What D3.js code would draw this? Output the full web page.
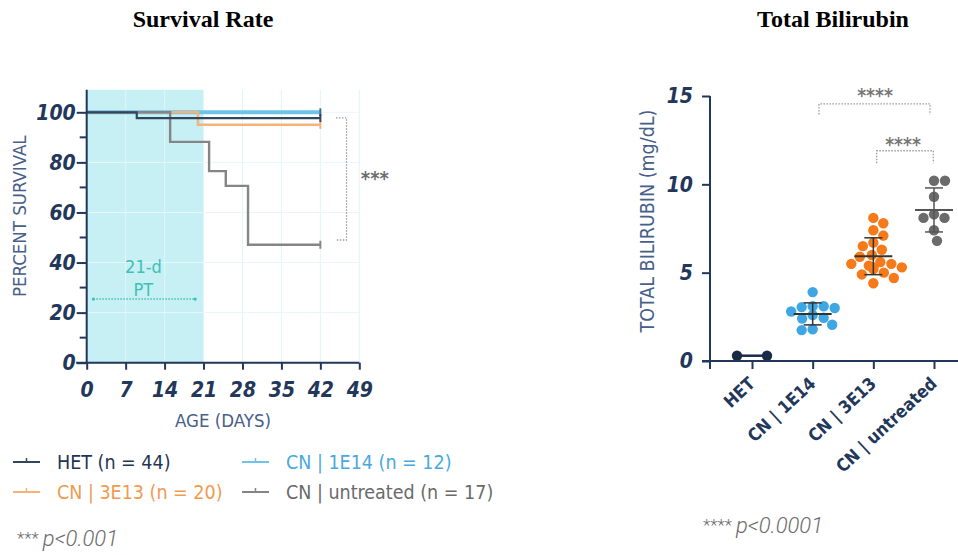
<!DOCTYPE html>
<html><head><meta charset="utf-8">
<script src="https://cdn.jsdelivr.net/npm/d3@7"></script>
<style>
body{margin:0;background:#fff;}
svg{display:block;}
.cond{font-family:"DejaVu Sans Condensed","DejaVu Sans",sans-serif;font-stretch:condensed;}
</style></head><body>
<svg id="c" width="958" height="555"></svg>
<script>
// ---------- DATA ----------
const survivalSeries = ["HET (n = 44)", "CN | 1E14 (n = 12)", "CN | 3E13 (n = 20)", "CN | untreated (n = 17)"];
const hetDays = [0, 9, 42],        hetPct = [100, 97.7, 97.7];
const e14Days = [0, 42],           e14Pct = [100, 100];
const e13Days = [0, 20, 42],       e13Pct = [100, 95, 95];
const untDays = [0, 15, 22, 25, 29, 42], untPct = [100, 88.2, 76.5, 70.6, 47.1, 47.1];
const dayTicks = [0, 7, 14, 21, 28, 35, 42, 49];
const pctTicks = [0, 20, 40, 60, 80, 100];

const biliCategories = ["HET", "CN | 1E14", "CN | 3E13", "CN | untreated"];
const biliHET = [0.3, 0.3];
const bili1E14 = [3.9, 3.1, 3.1, 3.05, 3.0, 2.8, 2.6, 2.45, 2.4, 2.05, 1.8, 1.75];
const bili3E13 = [8.1, 7.8, 7.4, 7.1, 6.7, 6.5, 6.3, 6.0, 5.9, 5.6, 5.5, 5.5, 5.4, 5.3, 5.3, 5.2, 5.0, 4.9, 4.7, 4.4];
const biliUntreated = [10.2, 10.2, 9.3, 8.3, 8.1, 8.1, 7.4, 6.8];
const biliTicks = [0, 5, 10, 15];

// ---------- STYLE ----------
const navy = "#22375a", labelCol = "#46608a";
const survColors = ["#33465f", "#6ec3ea", "#f5b27a", "#858585"];
const survWidths = [2.2, 4, 2.6, 2.4];
const biliColors = ["#1b2b47", "#3ea6e2", "#f77a1a", "#6b6b6b"];

const svg = d3.select("#c");
svg.append("text").attr("x", 203).attr("y", 27).attr("text-anchor", "middle")
  .style("font-family", "Liberation Serif, serif").style("font-weight", "bold").style("font-size", "24px").text("Survival Rate");
svg.append("text").attr("x", 833).attr("y", 27).attr("text-anchor", "middle")
  .style("font-family", "Liberation Serif, serif").style("font-weight", "bold").style("font-size", "24px").text("Total Bilirubin");

// ---------- SURVIVAL ----------
const x = d3.scaleLinear().domain([0, 49]).range([86.7, 359.3]);
const y = d3.scaleLinear().domain([0, 100]).range([362.7, 112.3]);
const g = svg.append("g");

g.append("rect").attr("x", x(0)).attr("width", x(21) - x(0)).attr("y", y(109)).attr("height", y(0) - y(109)).attr("fill", "#c6f0f4");
g.selectAll(".vg").data(dayTicks.slice(1)).join("line").attr("x1", d => x(d)).attr("x2", d => x(d))
  .attr("y1", y(109)).attr("y2", y(0)).attr("stroke", "#e2f5f7").attr("stroke-width", 1);
g.selectAll(".hg").data(pctTicks.slice(1)).join("line").attr("x1", x(0)).attr("x2", x(49))
  .attr("y1", d => y(d)).attr("y2", d => y(d)).attr("stroke", "#e8f7f8").attr("stroke-width", 1);

// PT annotation
g.append("line").attr("x1", x(1.2)).attr("x2", x(19.5)).attr("y1", y(25.4)).attr("y2", y(25.4))
  .attr("stroke", "#3fbfb8").attr("stroke-width", 1.5).attr("stroke-dasharray", "1.5,1.5");
[1.2, 19.5].forEach(d => g.append("circle").attr("cx", x(d)).attr("cy", y(25.4)).attr("r", 1.6).attr("fill", "#3fbfb8"));
g.append("text").attr("class", "cond").attr("x", x(10.2)).attr("y", y(38.4) + 6).attr("text-anchor", "middle")
  .attr("fill", "#3cc0b8").style("font-size", "18px").text("21-d");
g.append("text").attr("class", "cond").attr("x", x(10.2)).attr("y", y(29.2) + 6).attr("text-anchor", "middle")
  .attr("fill", "#3cc0b8").style("font-size", "18px").text("PT");

// lines
const stepLine = d3.line().curve(d3.curveStepAfter).x(d => x(d[0])).y(d => y(d[1]));
const survData = [
  d3.zip(hetDays, hetPct), d3.zip(e14Days, e14Pct), d3.zip(e13Days, e13Pct), d3.zip(untDays, untPct)];
[1, 2, 3, 0].forEach(i => {
  g.append("path").attr("d", stepLine(survData[i])).attr("fill", "none")
    .attr("stroke", survColors[i]).attr("stroke-width", survWidths[i]);
  const last = survData[i][survData[i].length - 1];
  g.append("line").attr("x1", x(last[0])).attr("x2", x(last[0])).attr("y1", y(last[1]) - 4).attr("y2", y(last[1]) + 4)
    .attr("stroke", i === 1 ? "#4a6a8a" : survColors[i]).attr("stroke-width", 2);
});

// axes
const yAxis = d3.axisLeft(y).tickValues(pctTicks).tickSize(10).tickPadding(1);
const ga = g.append("g").attr("transform", `translate(${x(0)},0)`).call(yAxis);
ga.select(".domain").remove();
ga.append("line").attr("x1", 0).attr("x2", 0).attr("y1", y(109)).attr("y2", y(0)).attr("stroke", navy).attr("stroke-width", 2);
ga.selectAll(".tick line").attr("stroke", navy).attr("stroke-width", 2);
ga.selectAll(".tick text").attr("class", "cond").attr("fill", navy)
  .style("font-size", "21px").style("font-weight", "bold").style("font-style", "italic");
ga.selectAll(".minor").data([10, 30, 50, 70, 90]).join("line").attr("x1", -7).attr("x2", 0)
  .attr("y1", d => y(d)).attr("y2", d => y(d)).attr("stroke", navy).attr("stroke-width", 2);

const xAxis = d3.axisBottom(x).tickValues(dayTicks).tickSize(7).tickPadding(12);
const gx = g.append("g").attr("transform", `translate(0,${y(0)})`).call(xAxis);
gx.select(".domain").remove();
gx.append("line").attr("x1", x(0) - 10.5).attr("x2", x(49)).attr("y1", 0).attr("y2", 0).attr("stroke", navy).attr("stroke-width", 2);
gx.selectAll(".tick line").attr("stroke", navy).attr("stroke-width", 2);
gx.selectAll(".tick text").attr("class", "cond").attr("fill", navy)
  .style("font-size", "21px").style("font-weight", "bold").style("font-style", "italic");

g.append("text").attr("class", "cond").attr("transform", `translate(26,${(y(0) + y(109)) / 2 - 10}) rotate(-90)`)
  .attr("text-anchor", "middle").attr("fill", labelCol).style("font-size", "18.5px").text("PERCENT SURVIVAL");
g.append("text").attr("class", "cond").attr("x", (x(0) + x(49)) / 2).attr("y", 427)
  .attr("text-anchor", "middle").attr("fill", labelCol).style("font-size", "18.5px").text("AGE (DAYS)");

// significance bracket
const br = g.append("g").attr("stroke", "#9a9a9a").attr("stroke-width", 1.3).attr("stroke-dasharray", "1.5,1.5").attr("fill", "none");
br.append("path").attr("d", `M${x(44.8)},${y(97.8)}H${x(46.7)}V${y(49)}H${x(44.8)}`);
g.append("text").attr("class", "cond").attr("x", x(51.8)).attr("y", y(74.7) + 9).attr("text-anchor", "middle")
  .attr("fill", "#6d6d6d").style("font-size", "20px").style("font-weight", "bold").text("***");

// legend
const legPos = [[13, 462], [242, 462], [13, 492], [242, 492]];
const legText = ["#1f3555", "#47a9df", "#f09a50", "#6a6a6a"];
survivalSeries.forEach((s, i) => {
  const [lx, ly] = legPos[i];
  g.append("line").attr("x1", lx).attr("x2", lx + 27).attr("y1", ly).attr("y2", ly).attr("stroke", survColors[i]).attr("stroke-width", 2);
  g.append("line").attr("x1", lx + 13.5).attr("x2", lx + 13.5).attr("y1", ly - 4).attr("y2", ly).attr("stroke", survColors[i]).attr("stroke-width", 1.5);
  g.append("text").attr("class", "cond").attr("x", lx + 44).attr("y", ly + 7).attr("fill", legText[i])
    .style("font-size", "19.5px").text(s);
});

function pText(sel, px, py, stars, p) {
  const t = sel.append("text").attr("x", px).attr("y", py).attr("fill", "#6a6a6a")
    .style("font-family", "Roboto, sans-serif").style("font-style", "italic").style("font-weight", "300");
  t.append("tspan").style("font-size", "17px").style("font-style", "normal").attr("dy", -2).text(stars + " ");
  t.append("tspan").style("font-size", "22px").attr("dy", 2).text(p);
}
pText(g, 17, 546, "***", "p<0.001");

// ---------- BILIRUBIN ----------
const xb = d3.scalePoint().domain(biliCategories).range([752, 934]);
const yb = d3.scaleLinear().domain([0, 15]).range([361, 96]);
const gb = svg.append("g");
const groups = [biliHET, bili1E14, bili3E13, biliUntreated];
const r = 5.2;

function swarm(vals, cx) {
  const sorted = vals.map((v, i) => ({ v, i, py: yb(v) })).sort((a, b) => a.py - b.py);
  const placed = [];
  const d = 2 * r + 0.6;
  sorted.forEach(p => {
    let best = null;
    for (let k = 0; k < 60 && best === null; k++) {
      const cands = k === 0 ? [0] : [k * 0.5, -k * 0.5];
      for (const off of cands) {
        const ok = placed.every(q => (q.px - (cx + off)) ** 2 + (q.py - p.py) ** 2 >= d * d);
        if (ok) { best = off; break; }
      }
    }
    p.px = cx + best;
    placed.push(p);
  });
  return placed;
}

const bb = gb.append("g").attr("stroke", "#9a9a9a").attr("stroke-width", 1.3).attr("stroke-dasharray", "1.5,1.5").attr("fill", "none");
bb.append("path").attr("d", `M${819},${yb(13.95)}V${yb(14.55)}H${930}V${yb(13.95)}`);
bb.append("path").attr("d", `M${876.7},${yb(11.2)}V${yb(11.9)}H${933.3}V${yb(11.2)}`);
gb.append("text").attr("class", "cond").attr("x", 875).attr("y", 102).attr("text-anchor", "middle")
  .attr("fill", "#777").style("font-size", "19px").style("font-weight", "bold").text("****");
gb.append("text").attr("class", "cond").attr("x", 903).attr("y", 151).attr("text-anchor", "middle")
  .attr("fill", "#777").style("font-size", "19px").style("font-weight", "bold").text("****");

groups.forEach((vals, gi) => {
  const cx = xb(biliCategories[gi]);
  const mean = d3.mean(vals);
  const sd = vals.length > 1 ? d3.deviation(vals) : 0;
  const halfW = gi === 0 ? 15 : 19;
  if (gi === 0) {
    gb.append("line").attr("x1", cx - halfW).attr("x2", cx + halfW).attr("y1", yb(mean)).attr("y2", yb(mean))
      .attr("stroke", biliColors[0]).attr("stroke-width", 2.5);
    [-halfW, halfW].forEach(o => gb.append("circle").attr("cx", cx + o).attr("cy", yb(vals[0])).attr("r", r).attr("fill", biliColors[0]));
    return;
  }
  const pts = swarm(vals, cx);
  gb.selectAll(null).data(pts).join("circle").attr("cx", p => p.px).attr("cy", p => p.py).attr("r", r)
    .attr("fill", biliColors[gi]);
  const lc = gi === 3 ? "#555" : "#333";
  gb.append("line").attr("x1", cx).attr("x2", cx).attr("y1", yb(mean + sd)).attr("y2", yb(mean - sd)).attr("stroke", lc).attr("stroke-width", 1.5);
  [mean + sd, mean - sd].forEach(v => gb.append("line").attr("x1", cx - 9).attr("x2", cx + 9).attr("y1", yb(v)).attr("y2", yb(v)).attr("stroke", lc).attr("stroke-width", 1.5));
  gb.append("line").attr("x1", cx - halfW).attr("x2", cx + halfW).attr("y1", yb(mean)).attr("y2", yb(mean)).attr("stroke", lc).attr("stroke-width", 2);
});

const yAxB = d3.axisLeft(yb).tickValues(biliTicks).tickSize(8).tickPadding(9);
const gya = gb.append("g").attr("transform", "translate(710,0)").call(yAxB);
gya.select(".domain").remove();
gya.append("line").attr("x1", 0).attr("x2", 0).attr("y1", yb(15)).attr("y2", yb(0) + 8).attr("stroke", navy).attr("stroke-width", 2);
gya.selectAll(".tick line").attr("stroke", navy).attr("stroke-width", 2);
gya.selectAll(".tick text").attr("class", "cond").attr("fill", navy)
  .style("font-size", "21px").style("font-weight", "bold").style("font-style", "italic");

const xAxB = d3.axisBottom(xb).tickSize(8).tickFormat("");
const gxa = gb.append("g").attr("transform", `translate(0,${yb(0)})`).call(xAxB);
gxa.select(".domain").remove();
gxa.append("line").attr("x1", 702).attr("x2", 958).attr("y1", 0).attr("y2", 0).attr("stroke", navy).attr("stroke-width", 2);
gxa.selectAll(".tick line").attr("stroke", navy).attr("stroke-width", 2);
biliCategories.forEach(c => {
  gb.append("text").attr("class", "cond").attr("transform", `translate(${xb(c) + 4},${yb(0) + 24}) rotate(-43)`)
    .attr("text-anchor", "end").attr("fill", navy).style("font-size", "17.5px").style("font-weight", "bold").text(c);
});

gb.append("text").attr("class", "cond").attr("transform", `translate(654,${221}) rotate(-90)`)
  .attr("text-anchor", "middle").attr("fill", labelCol).style("font-size", "19.5px").text("TOTAL BILIRUBIN (mg/dL)");

pText(gb, 703, 533, "****", "p<0.0001");
</script>
</body></html>
